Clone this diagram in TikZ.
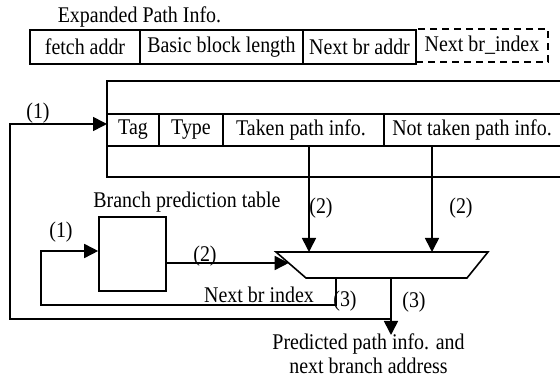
\documentclass[tikz,border=0pt]{standalone}
\usepackage{fontspec}
\setmainfont{Liberation Serif}[FakeStretch=0.89]
\usetikzlibrary{arrows.meta}

\begin{document}
\begin{tikzpicture}[x=1pt, y=-1pt, line width=1.6pt, line join=miter,
  lbl/.style={font=\fontsize{22.4}{25}\selectfont, inner sep=0pt},
  cell/.style={draw, lbl, minimum height=34pt},
  arr/.style={-{Triangle[length=14pt,width=14pt]}}]

\useasboundingbox (0,0) rectangle (560,379);

% ---- expanded path information record ----
\node[lbl, anchor=west] (eptitle) at (57,17) {Expanded Path Info.};
\node[cell, minimum width=110pt] (fa) at (85,47) {fetch addr};
\node[cell, minimum width=163pt] (bbl) at (221.5,47) {Basic block length};
\node[cell, minimum width=113pt] (nba) at (359.5,47) {Next br addr};
\node[cell, dashed, dash pattern=on 7pt off 5pt, minimum width=132pt, minimum height=33pt] (nbi) at (482,45.5) {Next br\_index};

% ---- path table ----
\coordinate (tTL) at (107,81);
\coordinate (tBL) at (107,177);
\coordinate (tTR) at (562,81);
\coordinate (tBR) at (562,177);
\draw (tTR) -- (tTL) -- (tBL) -- (tBR);
\draw (107,114) -- (562,114);
\draw (107,146) -- (562,146);
\draw (159,114) -- (159,146);
\draw (223,114) -- (223,146);
\draw (384,114) -- (384,146);
\coordinate (d1) at (309,146);
\coordinate (d2) at (432,146);
\coordinate (b1) at (309,177);
\coordinate (b2) at (432,177);
\draw (d1) -- (b1);
\draw (d2) -- (b2);
\node[lbl] (tag) at (133,130) {Tag};
\node[lbl] (type) at (191,130) {Type};
\node[lbl] (taken) at (301,130) {Taken path info.};
\node[lbl] (ntaken) at (472,130) {Not taken path info.};

% ---- branch prediction table ----
\node[lbl] (bpttitle) at (187,202) {Branch prediction table};
\node[draw, minimum width=67pt, minimum height=74pt, inner sep=0pt] (bpt) at (132.5,254) {};

% ---- selector ----
\coordinate (mtl) at (276,252);
\coordinate (mtr) at (488,252);
\coordinate (mbr) at (467,278);
\coordinate (mbl) at (306,278);
\draw (mtl) -- (mtr) -- (mbr) -- (mbl) -- cycle;

\coordinate (m1) at (309,252);
\coordinate (m2) at (432,252);
\draw[arr] (b1) -- (m1);
\draw[arr] (b2) -- (m2);
\node[lbl] (l2a) at (321,208) {(2)};
\node[lbl] (l2b) at (461,208) {(2)};

% BPT output into the selector
\coordinate (bo) at (166,263);
\coordinate (mi) at (288.7,263);
\draw[arr] (bo) -- (mi);
\node[lbl] (l2c) at (205,256) {(2)};

% next branch index fed back to the BPT
\coordinate (nx) at (336,278);
\coordinate (nxR) at (336,305);
\coordinate (nxL) at (41,305);
\coordinate (nxT) at (41,251);
\draw[arr] (nx) -- (nxR) -- (nxL) -- (nxT) -- (nxT -| bpt.west);
\node[lbl] (l1b) at (61,232) {(1)};
\node[lbl] (nbidx) at (259,295) {Next br index};
\node[lbl] (l3a) at (345,301) {(3)};

% selector output
\coordinate (mo) at (391,278);
\coordinate (out) at (391,335);
\draw[arr] (mo) -- (out);
\node[lbl] (l3b) at (414,302) {(3)};

% feedback to the path table
\coordinate (fb) at (391,319);
\coordinate (fbL) at (10,319);
\coordinate (fbT) at (10,124);
\draw[arr] (fb) -- (fbL) -- (fbT) -- (fbT -| tTL);
\node[lbl] (l1a) at (38,113) {(1)};

\node[lbl] (res1) at (368.5,344) {Predicted path info. and};
\node[lbl] (res2) at (368.5,366) {next branch address};
\end{tikzpicture}
\end{document}
